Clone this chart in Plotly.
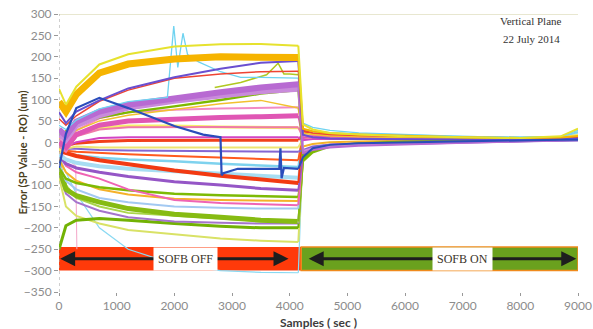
import plotly.graph_objects as go

# Sample times (s) at which the orbit-error traces are tabulated
t_off = [0, 120, 300, 700, 1200, 2000, 2800, 3500, 4150]
t_on = [4230, 4400, 4700, 5200, 6000, 7000, 8000, 8700, 9000]
t_all = t_off + t_on
t_switch = 4200  # feedback switched on

# BPM vertical orbit errors (um): feedback off, then feedback on
err_yellow_top = [125, 88, 130, 182, 206, 224, 229, 230, 226, 42, 30, 22, 18, 14, 12, 10, 14, 32]
err_orange_band = [95, 72, 112, 162, 183, 195, 200, 201, 198, 32, 26, 21, 18, 15, 12, 10, 11, 15]
err_violet_hi = [70, 45, 72, 98, 126, 152, 172, 186, 190, 18, 12, 9, 8, 7, 6, 6, 7, 9]
err_red_hi = [55, 40, 62, 96, 122, 150, 160, 165, 166, 28, 22, 18, 16, 14, 11, 9, 9, 11]
err_purple_a = [30, 15, 48, 72, 88, 104, 117, 128, 136, -25, -18, -12, -8, -5, -2, 2, 4, 6]
err_purple_b = [18, 5, 38, 62, 80, 96, 108, 118, 124, -20, -14, -9, -6, -4, 0, 3, 5, 6]
err_green_hi = [15, 25, 42, 58, 70, 84, 99, 114, 122, -42, -22, -8, -2, 2, 4, 6, 7, 8]
err_gold_thin = [10, 12, 28, 50, 63, 76, 90, 98, 80, 22, 18, 15, 13, 11, 9, 8, 9, 12]
err_magenta_band = [0, -12, 18, 40, 50, 55, 58, 60, 62, 10, 14, 13, 12, 10, 9, 8, 8, 9]
err_pink_a = [8, -5, 28, 56, 70, 76, 79, 81, 82, 15, 16, 14, 12, 10, 9, 8, 8, 10]
err_pink_b = [-10, -22, 14, 30, 35, 36, 36, 35, 35, 12, 12, 11, 10, 9, 8, 7, 7, 8]
err_light_yellow = [-20, 0, 20, 34, 38, 38, 36, 35, 34, 20, 18, 15, 13, 11, 10, 9, 10, 18]
err_magenta_lo = [-20, -10, 0, 10, 12, 12, 12, 12, 12, 5, 8, 8, 8, 7, 7, 7, 7, 8]
err_red_zero = [-5, -8, -2, 2, 4, 5, 5, 5, 5, 20, 19, 17, 15, 13, 11, 10, 9, 10]
err_pale_yellow = [-25, -15, -10, -12, -12, -12, -12, -12, -12, 8, 10, 10, 9, 8, 8, 7, 8, 12]
err_violet_mid = [-5, -15, -15, -18, -19, -20, -20, -22, -22, -18, -10, -6, -4, -2, 1, 3, 5, 5]
err_cyan_a = [-10, -25, -30, -36, -40, -44, -50, -54, -58, 30, 26, 22, 19, 16, 13, 11, 12, 24]
err_cyan_b = [-30, -40, -48, -56, -62, -68, -74, -79, -83, 25, 22, 19, 17, 14, 12, 10, 11, 20]
err_orange_red = [-15, -20, -22, -25, -28, -32, -36, -40, -42, 18, 17, 16, 14, 12, 10, 9, 9, 10]
err_red_thick = [-20, -25, -32, -42, -52, -66, -78, -88, -95, 26, 20, 16, 14, 12, 10, 9, 9, 10]
err_purple_lo = [-30, -50, -60, -70, -80, -92, -100, -108, -112, -30, -16, -9, -6, -4, -1, 2, 4, 5]
err_pink_lo = [-30, -55, -70, -85, -110, -135, -142, -145, -147, -20, -12, -6, -3, -1, 2, 4, 5, 6]
err_green_a = [-60, -85, -95, -105, -112, -120, -124, -126, -128, -38, -20, -8, -3, 0, 3, 5, 6, 7]
err_orange_lo = [-40, -70, -90, -110, -122, -132, -135, -136, -137, -10, -4, 0, 2, 4, 6, 7, 8, 9]
err_sky_lo = [-50, -90, -110, -130, -140, -150, -153, -155, -155, 10, 12, 12, 11, 10, 9, 8, 9, 16]
err_green_thick = [-60, -110, -125, -140, -155, -168, -175, -182, -185, -45, -24, -10, -4, 0, 3, 5, 6, 7]
err_lilac_lo = [-70, -120, -140, -160, -175, -185, -188, -190, -190, -25, -12, -6, -3, -1, 2, 4, 5, 5]
err_green_base = [-250, -195, -182, -178, -182, -190, -196, -200, -200, -40, -20, -8, -3, 0, 3, 5, 6, 7]
err_yellow_lo = [-80, -150, -172, -190, -205, -215, -225, -230, -233, -30, -16, -7, -3, 0, 2, 4, 6, 10]
err_lime_lo = [-40, -100, -130, -150, -165, -172, -178, -184, -188, -35, -18, -8, -3, 0, 2, 4, 5, 6]
err_cyan_sink = [-30, -70, -120, -200, -250, -285, -300, -304, -305, -20, -10, -4, -1, 1, 3, 5, 6, 7]

# Traces with transients, sampled on their own time bases
t_cyan_hi = [0, 120, 300, 700, 1200, 1880, 1990, 2060, 2150, 2230, 2420, 2800, 3150, 3500, 4150] + t_on
err_cyan_hi = [40, 30, 52, 78, 95, 105, 272, 175, 255, 205, 188, 165, 152, 152, 150,
               45, 35, 28, 22, 18, 14, 12, 14, 28]
t_olive = [2700, 3150, 3600, 3800, 3900, 4000, 4150]
err_olive = [128, 140, 158, 185, 160, 160, 158]
t_blue_dive = [0, 120, 300, 700, 1200, 2000, 2500, 2800, 2820, 2850, 3100, 3820, 3840, 3860, 3900, 4150] + t_on
err_blue_dive = [-60, 20, 80, 104, 80, 38, 18, 12, -77, -72, -62, -62, -14, -84, -60, -62,
                 -35, -14, -6, -2, 0, 3, 5, 6, 6]
t_pink_drop = [0, 150, 290, 300, 310]
err_pink_drop = [-20, -40, -55, -240, -250]

y_ticks = list(range(-350, 301, 50))
x_ticks = list(range(0, 9001, 1000))

series = [
    (t_all, err_cyan_sink, "#8AD9F2", 1.2),
    (t_pink_drop, err_pink_drop, "#F4A6C8", 1),
    (t_all, err_yellow_lo, "#D9E266", 2),
    (t_all, err_green_base, "#72B204", 3),
    (t_all, err_lilac_lo, "#A474CC", 2),
    (t_all, err_lime_lo, "#A9D64A", 2),
    (t_all, err_green_thick, "#86BB12", 5),
    (t_all, err_sky_lo, "#A3C9F2", 2),
    (t_all, err_orange_lo, "#F5B12A", 2),
    (t_all, err_green_a, "#7DBA05", 2.5),
    (t_all, err_pink_lo, "#F064B4", 2),
    (t_all, err_purple_lo, "#9556C6", 3),
    (t_all, err_cyan_b, "#A7DDF2", 4),
    (t_all, err_cyan_a, "#7ED2EE", 2.5),
    (t_all, err_red_thick, "#F23A12", 4),
    (t_all, err_orange_red, "#FF5A1E", 2),
    (t_all, err_violet_mid, "#8466D2", 2),
    (t_all, err_pale_yellow, "#EDE470", 2),
    (t_all, err_red_zero, "#F2401A", 3),
    (t_all, err_magenta_lo, "#D244C4", 2),
    (t_all, err_light_yellow, "#F6EE6A", 3),
    (t_all, err_pink_b, "#F07AA8", 2),
    (t_all, err_pink_a, "#F28BC4", 2),
    (t_all, err_magenta_band, "#E056B4", 5),
    (t_all, err_gold_thin, "#F2C12E", 1.5),
    (t_all, err_green_hi, "#7CB900", 2.5),
    (t_all, err_purple_b, "#C98BDB", 5),
    (t_all, err_purple_a, "#B86AD2", 6),
    (t_olive, err_olive, "#B0C820", 1.5),
    (t_cyan_hi, err_cyan_hi, "#6FD3F0", 1.3),
    (t_all, err_red_hi, "#EE4433", 1.5),
    (t_all, err_violet_hi, "#6A4FD0", 2),
    (t_all, err_orange_band, "#F6B400", 7),
    (t_all, err_yellow_top, "#E6E22E", 2),
    (t_blue_dive, err_blue_dive, "#2A4DBB", 2.2),
]

fig = go.Figure()
# draw each trace in two parts: the free-running part before the switch,
# and the corrected part (thin) starting from the last uncorrected sample
on_parts = []
for tx, ty, col, w in series:
    n_off = sum(1 for t in tx if t < t_switch)
    fig.add_trace(go.Scatter(x=tx[:n_off], y=ty[:n_off], mode="lines",
                             line=dict(color=col, width=w), showlegend=False,
                             hoverinfo="skip"))
    if n_off < len(tx):
        on_parts.append((tx[n_off - 1:], ty[n_off - 1:], col, min(w, 2)))
for tx, ty, col, w in on_parts:
    fig.add_trace(go.Scatter(x=tx, y=ty, mode="lines",
                             line=dict(color=col, width=w), showlegend=False,
                             hoverinfo="skip"))

# feedback-state bands along the bottom
fig.add_shape(type="rect", x0=0, x1=4200, y0=-300, y1=-245, layer="below",
              fillcolor="#FF3A0A", line=dict(width=0))
fig.add_shape(type="rect", x0=4200, x1=9000, y0=-300, y1=-245, layer="below",
              fillcolor="#6AA11E", line=dict(color="#F08A1C", width=1.5))
# top frame line and dotted left axis
fig.add_shape(type="line", x0=0, x1=9000, y0=300, y1=300,
              line=dict(color="#D2CFA2", width=1))
fig.add_shape(type="line", x0=0, x1=0, y0=-350, y1=300,
              line=dict(color="#A0A0A0", width=1, dash="dot"))

for head, tail in [(20, 2200), (3980, 2200), (4330, 7000), (8970, 7000)]:
    fig.add_annotation(x=head, y=-272, ax=tail, ay=-272, axref="x", ayref="y",
                       xref="x", yref="y", text="", showarrow=True,
                       arrowhead=2, arrowsize=1, arrowwidth=3, arrowcolor="#1E1E1E")
for label, cx in [("SOFB OFF", 2200), ("SOFB ON", 7000)]:
    fig.add_annotation(x=cx, y=-272, xref="x", yref="y", text=label, showarrow=False,
                       bgcolor="white", borderpad=4,
                       font=dict(family="Liberation Serif", size=12, color="#3A3328"))

for line_text, dy in [("Vertical Plane", -7), ("22 July 2014", -25)]:
    fig.add_annotation(x=0.91, y=1, xref="paper", yref="paper", xanchor="center",
                       yanchor="middle", yshift=dy, text=line_text, showarrow=False,
                       font=dict(family="Liberation Serif", size=11, color="#333333"))
fig.add_annotation(x=0.5, y=0, xref="paper", yref="paper", yanchor="top", yshift=-21,
                   text="<b>Samples ( sec )</b>", showarrow=False,
                   font=dict(family="Lato", size=12, color="#3D3D3D"))
fig.add_annotation(x=0, y=0.5, xref="paper", yref="paper", xshift=-46, textangle=-90,
                   text="<b>Error (SP Value - RO) (um)</b>", showarrow=False,
                   font=dict(family="Lato", size=11, color="#4B3F1E"))

fig.update_layout(
    width=593, height=329,
    margin=dict(l=59, r=15, t=14, b=37, autoexpand=False),
    paper_bgcolor="white", plot_bgcolor="white",
    showlegend=False,
    xaxis=dict(range=[0, 9000], tickvals=x_ticks, showgrid=False, zeroline=False,
               automargin=False, showline=False, ticks="outside", ticklen=3,
               tickcolor="#999999",
               tickfont=dict(family="Lato", size=12, color="#8C8C8C")),
    yaxis=dict(range=[-350, 300], tickvals=y_ticks, showgrid=False, zeroline=False,
               automargin=False, showline=False, ticks="outside", ticklen=4,
               tickcolor="#999999",
               tickfont=dict(family="Lato", size=12, color="#8C8C8C")),
)

fig.write_html("out.html")
